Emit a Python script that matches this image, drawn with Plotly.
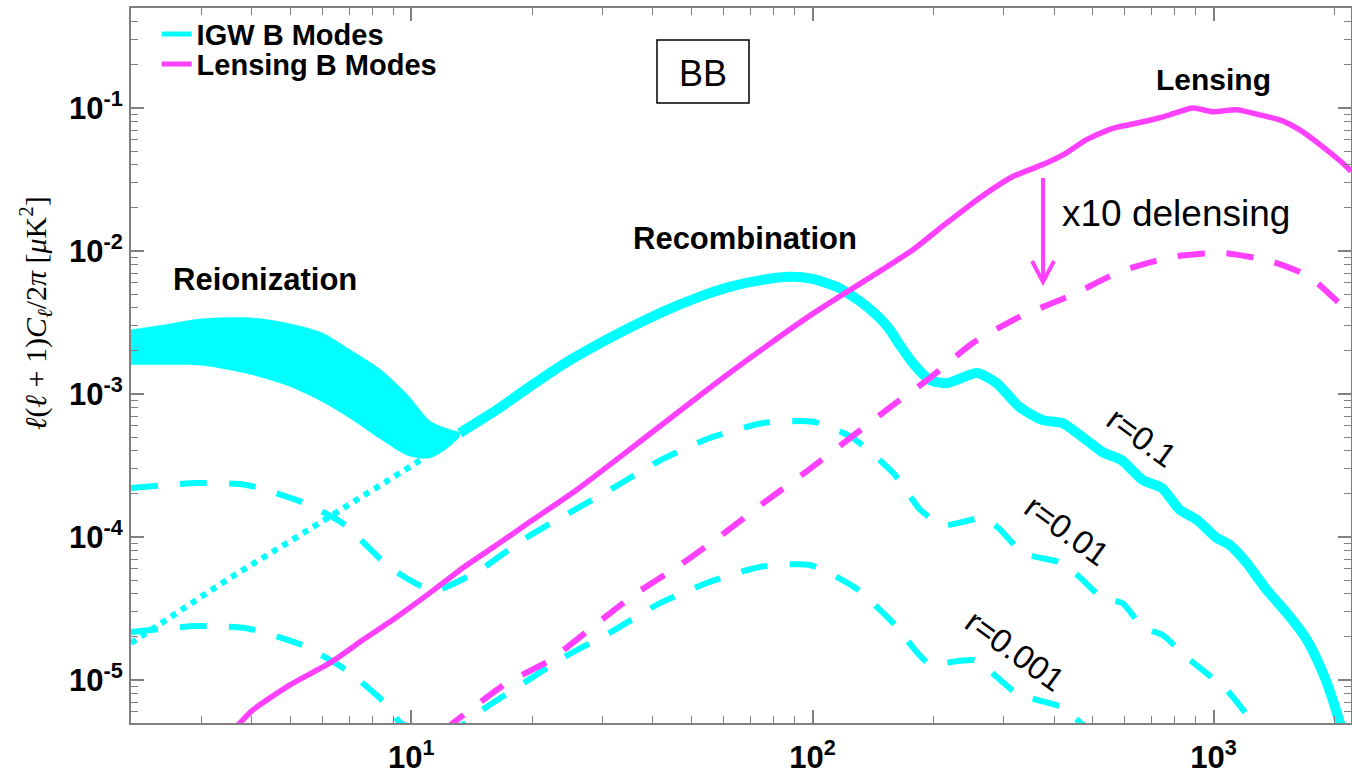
import numpy as np
import plotly.graph_objects as go

CYAN = "#00FFFF"
MAGENTA = "#FF40FF"

# ---- data (multipole ell, D_ell in muK^2) ----
band_ell = [2.0, 2.5, 3.0, 4.0, 5.0, 6.0, 7.0, 8.4, 9.8, 11.1, 12.2, 13.2]
band_hi = [2.81e-3, 3.09e-3, 3.35e-3, 3.40e-3, 3.09e-3, 2.67e-3, 2.05e-3, 1.47e-3, 9.8e-4, 6.5e-4, 5.75e-4, 5.4e-4]
band_lo = [1.60e-3, 1.60e-3, 1.58e-3, 1.36e-3, 1.12e-3, 8.8e-4, 6.8e-4, 4.8e-4, 3.7e-4, 3.55e-4, 4.1e-4, 5.0e-4]

dot_ell = [2.0, 3.52, 5.18, 7.56, 9.89, 10.6]
dot_val = [1.81e-5, 5.15e-5, 9.98e-5, 1.90e-4, 3.08e-4, 3.49e-4]

r01_ell = [13.2, 16.3, 19.7, 23.8, 29.0, 35.0, 42.3, 51.4, 62.1, 75.0, 87.7, 100, 115, 133,
           147, 156, 165, 178, 196, 216, 257, 288, 328, 375, 420, 482, 530, 590, 665, 743,
           823, 908, 1018, 1097, 1209, 1356, 1521, 1709, 1872, 1983, 2064, 2200]
r01_val = [5.33e-4, 7.73e-4, 1.12e-3, 1.60e-3, 2.20e-3, 2.90e-3, 3.75e-3, 4.70e-3, 5.61e-3,
           6.28e-3, 6.59e-3, 6.38e-3, 5.61e-3, 4.33e-3, 3.40e-3, 2.80e-3, 2.20e-3, 1.64e-3,
           1.25e-3, 1.19e-3, 1.40e-3, 1.19e-3, 8.1e-4, 6.56e-4, 6.25e-4, 4.75e-4, 3.9e-4,
           3.44e-4, 2.5e-4, 2.2e-4, 1.55e-4, 1.32e-4, 9.84e-5, 8.79e-5, 6.58e-5, 4.26e-5,
           2.94e-5, 1.90e-5, 1.12e-5, 7.2e-6, 5.0e-6, 2.8e-6]

r001_ell = [2.0, 2.91, 3.88, 5.35, 6.73, 8.82, 10.7, 11.6, 14.8, 18.9, 24.7, 32.1, 41.8, 55.4,
            75.5, 101, 125, 159, 186, 212, 264, 289, 336, 420, 463, 529, 593, 665, 746, 857,
            939, 1078, 1175, 1245, 1320]
r001_val = [2.20e-4, 2.38e-4, 2.31e-4, 1.75e-4, 1.25e-4, 6.15e-5, 4.46e-5, 4.25e-5, 5.86e-5,
            9.5e-5, 1.47e-4, 2.23e-4, 3.45e-4, 4.92e-4, 6.27e-4, 6.37e-4, 5.0e-4, 2.80e-4,
            1.54e-4, 1.21e-4, 1.35e-4, 1.17e-4, 7.7e-5, 6.56e-5, 5.24e-5, 3.73e-5, 3.44e-5,
            2.34e-5, 2.06e-5, 1.44e-5, 1.17e-5, 8.5e-6, 6.35e-6, 5.07e-6, 3.5e-6]

r0001_ell = [2.0, 2.91, 3.88, 5.35, 6.89, 8.82, 9.34, 11.2, 13.7, 15.0, 17.9, 24.1, 31.4, 40.8,
             54.5, 73.9, 98.5, 128, 159, 195, 254, 323, 428, 463, 520]
r0001_val = [2.16e-5, 2.38e-5, 2.30e-5, 1.75e-5, 1.17e-5, 6.45e-6, 5.07e-6, 4.2e-6, 5.0e-6,
             6.15e-6, 8.5e-6, 1.45e-5, 2.16e-5, 3.34e-5, 4.76e-5, 6.17e-5, 6.37e-5, 4.40e-5,
             2.5e-5, 1.31e-5, 1.37e-5, 8.07e-6, 6.3e-6, 5.07e-6, 4.0e-6]

lens_ell = [3.4, 3.69, 4.02, 4.97, 6.25, 7.56, 9.18, 11.1, 13.4, 16.3, 19.7, 25.8, 39.3, 62.1,
            100, 147, 178, 216, 261, 315, 384, 430, 482, 560, 681, 777, 887, 995, 1141, 1302,
            1461, 1639, 1871, 2148, 2200]
lens_val = [4.0e-6, 4.83e-6, 6.15e-6, 9.2e-6, 1.31e-5, 1.90e-5, 2.75e-5, 4.05e-5, 6.05e-5,
            8.77e-5, 1.27e-4, 2.13e-4, 5.25e-4, 1.40e-3, 3.63e-3, 7.2e-3, 1.02e-2, 1.57e-2,
            2.35e-2, 3.30e-2, 4.13e-2, 4.86e-2, 6.0e-2, 7.2e-2, 8.1e-2, 8.95e-2, 1.0e-1,
            9.4e-2, 9.7e-2, 8.95e-2, 8.26e-2, 7.03e-2, 5.35e-2, 3.87e-2, 3.6e-2]

delens_ell = [12.0, 12.7, 14.0, 16.3, 17.4, 22.1, 28.1, 35.8, 46.7, 59.3, 75.5, 96.1, 125, 159,
              196, 251, 328, 444, 582, 790, 1053, 1403, 1735, 1977, 2200]
delens_val = [4.3e-6, 5.0e-6, 6.15e-6, 8.5e-6, 9.65e-6, 1.37e-5, 2.31e-5, 3.92e-5, 6.35e-5,
              1.03e-4, 1.73e-4, 2.84e-4, 5.0e-4, 8.4e-4, 1.29e-3, 2.27e-3, 3.46e-3, 4.93e-3,
              7.14e-3, 9.1e-3, 9.7e-3, 8.4e-3, 6.6e-3, 4.78e-3, 3.6e-3]

x_ticks = [10, 100, 1000]
x_ticktext = ["10<sup>1</sup>", "10<sup>2</sup>", "10<sup>3</sup>"]
y_ticks = [1e-5, 1e-4, 1e-3, 1e-2, 1e-1]
y_ticktext = ["10<sup>-5</sup>", "10<sup>-4</sup>", "10<sup>-3</sup>", "10<sup>-2</sup>", "10<sup>-1</sup>"]

FONT = "Liberation Sans, Arial, Helvetica, sans-serif"
DASH = "27px,22px"

fig = go.Figure()
fig.add_trace(go.Scatter(x=band_ell, y=band_lo, mode="lines",
                         line=dict(width=0, color=CYAN, shape="spline", smoothing=0.8),
                         showlegend=False, hoverinfo="skip"))
fig.add_trace(go.Scatter(x=band_ell, y=band_hi, mode="lines", fill="tonexty", fillcolor=CYAN,
                         line=dict(width=0.5, color=CYAN, shape="spline", smoothing=0.8),
                         showlegend=False, hoverinfo="skip"))
fig.add_trace(go.Scatter(x=dot_ell, y=dot_val, mode="lines", line=dict(color=CYAN, width=6, dash="dot"),
                         showlegend=False))
fig.add_trace(go.Scatter(x=r01_ell, y=r01_val, mode="lines",
                         line=dict(color=CYAN, width=10, shape="spline", smoothing=0.6),
                         showlegend=False))
fig.add_trace(go.Scatter(x=r001_ell, y=r001_val, mode="lines",
                         line=dict(color=CYAN, width=6, dash=DASH, shape="spline", smoothing=0.6), showlegend=False))
fig.add_trace(go.Scatter(x=r0001_ell, y=r0001_val, mode="lines",
                         line=dict(color=CYAN, width=6, dash=DASH, shape="spline", smoothing=0.6), showlegend=False))
fig.add_trace(go.Scatter(x=delens_ell, y=delens_val, mode="lines",
                         line=dict(color=MAGENTA, width=6, dash=DASH, shape="spline", smoothing=0.6), showlegend=False))
fig.add_trace(go.Scatter(x=lens_ell, y=lens_val, mode="lines",
                         line=dict(color=MAGENTA, width=5.5, shape="spline", smoothing=0.6), showlegend=False))
# legend entries
fig.add_trace(go.Scatter(x=[None], y=[None], mode="lines", line=dict(color=CYAN, width=5),
                         name="IGW B Modes", legend="legend"))
fig.add_trace(go.Scatter(x=[None], y=[None], mode="lines", line=dict(color=MAGENTA, width=5),
                         name="Lensing B Modes", legend="legend2"))

minor_x = [m * 10 ** e for e in range(0, 4) for m in range(2, 10)]
minor_y = [m * 10 ** e for e in range(-6, 0) for m in range(2, 10)]

axis_common = dict(type="log", showline=True, linecolor="#808080", linewidth=2, mirror="ticks",
                   ticks="inside", ticklen=13, tickwidth=1.5, tickcolor="#808080",
                   showgrid=False, zeroline=False, automargin=False,
                   tickfont=dict(family=FONT, size=31, color="black", weight="bold"))

leg_font = dict(family=FONT, size=29, color="black", weight="bold")
fig.update_layout(
    width=1352, height=775, autosize=False,
    margin=dict(l=131, r=1, t=8, b=52),
    paper_bgcolor="white", plot_bgcolor="white",
    xaxis=dict(range=[np.log10(2), np.log10(2200)], tickmode="array", tickvals=x_ticks, ticktext=x_ticktext,
               ticklabelstandoff=6,
               minor=dict(tickmode="array", tickvals=minor_x, ticks="inside", ticklen=7, tickwidth=1.2,
                          tickcolor="#808080", showgrid=False),
               **axis_common),
    yaxis=dict(range=[np.log10(5e-6), np.log10(0.5)], tickmode="array", tickvals=y_ticks, ticktext=y_ticktext,
               minor=dict(tickmode="array", tickvals=minor_y, ticks="inside", ticklen=7, tickwidth=1.2,
                          tickcolor="#808080", showgrid=False),
               **axis_common),
    legend=dict(x=0.021, y=0.999, xanchor="left", yanchor="top", bgcolor="rgba(0,0,0,0)",
                font=leg_font, itemwidth=30, traceorder="normal"),
    legend2=dict(x=0.021, y=0.957, xanchor="left", yanchor="top", bgcolor="rgba(0,0,0,0)",
                 font=leg_font, itemwidth=30, traceorder="normal"),
    showlegend=True,
)

def P(px, py):
    return (px - 131) / 1220.0, 1 - (py - 8) / 715.0

def label(text, px, py, size, bold=False, angle=0, xanchor="center", family=FONT):
    x, y = P(px, py)
    fig.add_annotation(x=x, y=y, xref="paper", yref="paper", text=text, showarrow=False,
                       textangle=angle, xanchor=xanchor, yanchor="middle",
                       font=dict(family=family, size=size, color="black", weight="bold" if bold else "normal"))

label("Reionization", 265, 279, 31, bold=True)
label("Recombination", 745, 238, 31, bold=True)
label("Lensing", 1213, 80, 30, bold=True)
label("BB", 703, 73, 36)
label("x10 delensing", 1060, 214, 37, xanchor="left")
label("r=0.1", 1142, 437, 33, angle=36)
label("r=0.01", 1067, 530, 33, angle=36)
label("r=0.001", 1015, 650, 33, angle=36)
label("<i>ℓ</i>(<i>ℓ</i> + 1)<i>C</i><sub><i>ℓ</i></sub>/2<i>π</i> [<i>μ</i>K<sup>2</sup>]", 35, 313, 30,
      angle=-90, family="Liberation Serif, DejaVu Serif, serif")

# BB box
bx0, by0 = P(657, 103)
bx1, by1 = P(749, 40)
fig.add_shape(type="rect", xref="paper", yref="paper", x0=bx0, y0=by0, x1=bx1, y1=by1,
              line=dict(color="black", width=1.5))
# delensing arrow
ax_, ay_top = P(1043, 178)
_, ay_tip = P(1043, 282)
hlx, hy = P(1032, 261)
hrx, _ = P(1054, 261)
fig.add_shape(type="path", xref="paper", yref="paper",
              path=f"M {ax_},{ay_top} L {ax_},{ay_tip} M {hlx},{hy} L {ax_},{ay_tip} L {hrx},{hy}",
              line=dict(color=MAGENTA, width=4))

fig.write_html("out.html")
